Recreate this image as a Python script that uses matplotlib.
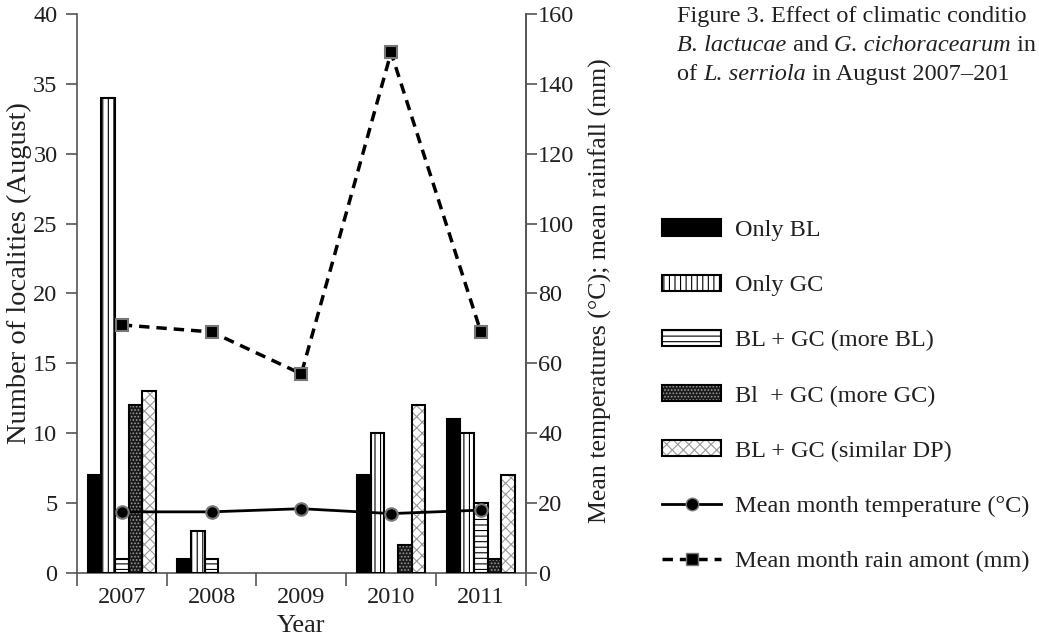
import numpy as np
import matplotlib
matplotlib.use('Agg')
import matplotlib.pyplot as plt
from matplotlib.patches import Patch
from matplotlib.lines import Line2D

# Données
years = ['2007', '2008', '2009', '2010', '2011']
only_bl = [7, 1, 0, 7, 11]
only_gc = [34, 3, 0, 10, 10]
more_bl = [1, 1, 0, 0, 5]
more_gc = [12, 0, 0, 2, 1]
similar_dp = [13, 0, 0, 12, 7]
temperature = [17.5, 17.5, 18.4, 17.0, 18.0]
rainfall = [71, 69, 57, 149, 69]

labels = ['Only BL', 'Only GC', 'BL + GC (more BL)', 'Bl  + GC (more GC)',
          'BL + GC (similar DP)']
temp_label = 'Mean month temperature (°C)'
rain_label = 'Mean month rain amont (mm)'

ink = '#231f20'
spine = '#555555'
fs = 17.5
plt.rcParams.update({
    'font.family': ['Liberation Serif', 'DejaVu Serif'],
    'font.size': fs,
    'text.color': ink,
    'axes.labelcolor': ink,
    'xtick.color': spine,
    'ytick.color': spine,
    'xtick.labelcolor': ink,
    'ytick.labelcolor': ink,
    'hatch.linewidth': 0.8,
})

fig = plt.figure(figsize=(10.39, 6.37), dpi=100)
ax = fig.add_axes([0.074, 0.1005, 0.432, 0.8775])
ax2 = ax.twinx()

x = np.arange(len(years)) + 0.5
w = 0.152
offsets = np.array([-2, -1, 0, 1, 2]) * w

# styles des barres : (face, hachures, couleur hachures)
styles = [('black', None, None),
          ('white', '|||', 'black'),
          ('white', '---', 'black'),
          ('#1a1a1a', '.....', '#9a9a9a'),
          ('white', 'xxx', '#9a9a9a')]
series = [only_bl, only_gc, more_bl, more_gc, similar_dp]

handles = []
for vals, off, (fc, hatch, hc), lab in zip(series, offsets, styles, labels):
    vals = np.array(vals, dtype=float)
    m = vals > 0
    xs = (x + off)[m]
    if hatch:
        ax.bar(xs, vals[m], w, facecolor=fc, edgecolor=hc, hatch=hatch,
               linewidth=0, zorder=2)
        ax.bar(xs, vals[m], w, facecolor='none', edgecolor='black',
               linewidth=1.5, zorder=3)
        h = (Patch(facecolor=fc, edgecolor=hc, hatch=hatch, linewidth=0),
             Patch(facecolor='none', edgecolor='black', linewidth=1.5))
    else:
        ax.bar(xs, vals[m], w, facecolor=fc, edgecolor='black',
               linewidth=1.5, zorder=3)
        h = Patch(facecolor=fc, edgecolor='black', linewidth=1.5)
    handles.append(h)

ax2.plot(x, temperature, '-', color='black', lw=2, marker='o', ms=9,
         mfc='black', mec='#777777', mew=1.5, zorder=4)
ax2.plot(x, rainfall, '--', color='black', lw=2.5, dashes=(3, 2), marker='s',
         ms=9, mfc='black', mec='#777777', mew=1.5, zorder=4)

ax.set_xlim(0, 5)
ax.set_ylim(0, 40)
ax2.set_ylim(0, 160)
ax.set_yticks(np.arange(0, 41, 5))
ax2.set_yticks(np.arange(0, 161, 20))
ax.set_xticks(np.arange(0, 6))
ax.set_xticklabels([])
ax.set_xticks(x, minor=True)
ax.set_xticklabels(years, minor=True)
ax.tick_params(axis='x', which='minor', length=0, pad=10)
ax.tick_params(axis='x', which='major', length=9, width=1.2)
ax.tick_params(axis='y', length=8, width=1.2, pad=6)
ax2.tick_params(axis='y', length=8, width=1.2, pad=1)

for a in (ax, ax2):
    a.spines['top'].set_visible(False)
    for s in ('left', 'right', 'bottom'):
        a.spines[s].set_color(spine)
        a.spines[s].set_linewidth(1.2)
ax2.spines['left'].set_visible(False)
ax2.spines['bottom'].set_visible(False)

ax.set_xlabel('Year', fontsize=19, labelpad=5)
ax.set_ylabel('Number of localities (August)', fontsize=20.5)
ax.yaxis.set_label_coords(-0.100, 0.537)
ax2.set_ylabel('Mean temperatures (°C); mean rainfall (mm)', fontsize=18.6)
ax2.yaxis.set_label_coords(1.14, 0.505)

handles.append(Line2D([], [], color='black', lw=2, marker='o', ms=9,
                      mfc='black', mec='#777777'))
handles.append(Line2D([], [], color='black', lw=2.5, dashes=(3, 2), marker='s',
                      ms=9, mfc='black', mec='#777777'))
fig.legend(handles, labels + [temp_label, rain_label], loc='upper left',
           bbox_to_anchor=(0.6165, 0.69), frameon=False, handlelength=2.4,
           handleheight=0.65, labelspacing=1.38, handletextpad=0.6,
           fontsize=fs)

# Légende de la figure (coupée au bord droit comme sur l'original)
renderer = fig.canvas.get_renderer()
caption = [
    [('Figure 3. Effect of climatic conditio', 'normal')],
    [('B. lactucae', 'italic'), (' and ', 'normal'),
     ('G. cichoracearum', 'italic'), (' in', 'normal')],
    [('of ', 'normal'), ('L. serriola', 'italic'),
     (' in August 2007–201', 'normal')],
]
y0 = 0.99
for i, parts in enumerate(caption):
    xpos = 0.652
    for txt, style in parts:
        t = fig.text(xpos, y0 - i * 0.045, txt, style=style, fontsize=fs,
                     va='top', ha='left')
        bb = t.get_window_extent(renderer)
        xpos += bb.width / fig.bbox.width

fig.savefig('out.png', dpi=100)
